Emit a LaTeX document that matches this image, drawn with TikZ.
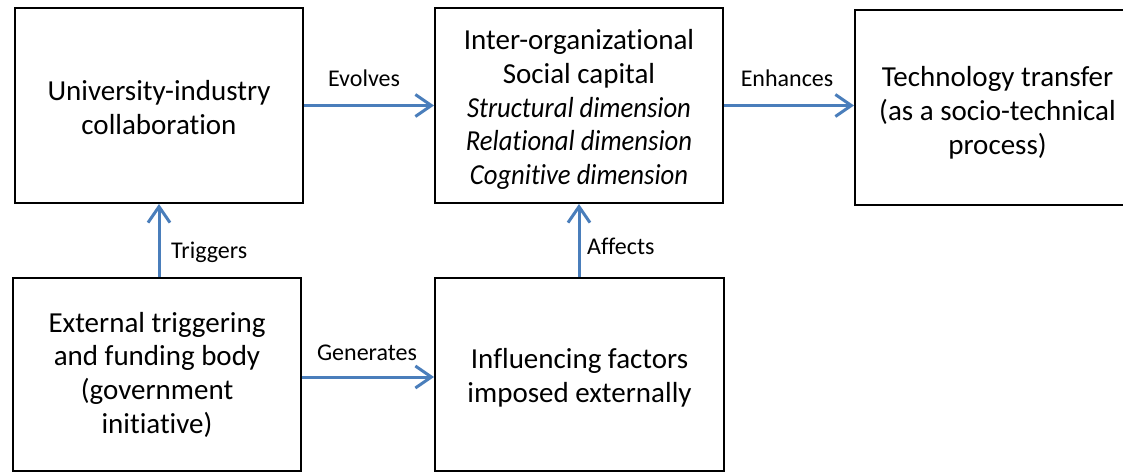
\documentclass[tikz,border=0pt]{standalone}
\usepackage{fontspec}
\setmainfont{Carlito}[Ligatures=NoCommon, ItalicFeatures={FakeStretch=0.92}]
\usetikzlibrary{arrows.meta}
\definecolor{arrowblue}{HTML}{4A7EBB}
\newcommand{\topgap}[1]{\rule{0pt}{#1}}
\tikzset{
  box/.style={draw=black, line width=2pt, rectangle, inner sep=0pt, align=center,
    minimum width=288pt, minimum height=195pt, font=\fontsize{29}{33.7}\selectfont},
  flow/.style={draw=arrowblue, line width=3pt,
    -{Straight Barb[length=16pt,width=22pt,line width=3pt]}},
  lbl/.style={inner sep=0pt, font=\fontsize{24}{28}\selectfont}
}
\begin{document}
\begin{tikzpicture}[x=1pt,y=-1pt]
\useasboundingbox (0,0) rectangle (1123,473);
\node[box] (A) at (159,105.5) {\topgap{24.5pt}University-industry\\collaboration};
\node[box] (B) at (579,105.5) {\topgap{28.5pt}Inter-organizational\\Social capital\\\textit{Structural dimension}\\\textit{Relational dimension}\\\textit{Cognitive dimension}};
\node[box, minimum width=285pt] (C) at (997.5,107.5) {\topgap{30.5pt}Technology transfer\\(as a socio-technical\\process)};
\node[box, minimum height=193pt] (D) at (157,374.5) {External triggering\\and funding body\\(government\\initiative)};
\node[box, minimum width=289pt, minimum height=193pt] (E) at (579.5,374.5) {\topgap{26.5pt}Influencing factors\\imposed externally};
\draw[flow] (A.east) -- (B.west);
\draw[flow] (B.east) -- (B.east -| C.west);
\draw[flow] (A.south |- D.north) -- (A.south);
\draw[flow] (B.south |- E.north) -- (B.south);
\draw[flow] ([yshift=-2.5pt]D.east) -- ([yshift=-2.5pt]D.east -| E.west);
\node[lbl, anchor=base] (l1) at (364,87) {Evolves};
\node[lbl, anchor=base] (l2) at (787,87) {Enhances};
\node[lbl, anchor=base west] (l3) at (171,258) {Triggers};
\node[lbl, anchor=base west] (l4) at (587,254) {Affects};
\node[lbl, anchor=base] (l5) at (367,360) {Generates};
\end{tikzpicture}
\end{document}
